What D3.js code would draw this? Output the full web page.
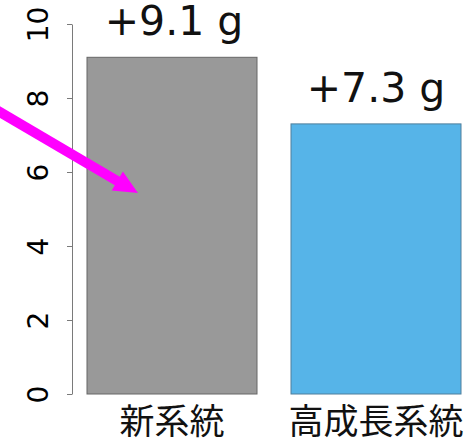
<!DOCTYPE html>
<html>
<head>
<meta charset="utf-8">
<script src="https://cdn.jsdelivr.net/npm/d3@7"></script>
<style>
  html, body { margin: 0; padding: 0; background: #fff; }
  svg { display: block; }
</style>
</head>
<body>
<script>
// Weight gain per line
const categories = ["新系統", "高成長系統"];
const values = [9.1, 7.3];
const valueLabels = ["+9.1 g", "+7.3 g"];
const barColors = ["#999999", "#56B4E8"];
const barStrokes = ["#666666", "#4f7f9c"];
const yTicks = [0, 2, 4, 6, 8, 10];

const W = 468, H = 438;
const svg = d3.select("body").append("svg")
  .attr("width", W).attr("height", H);

const y = d3.scaleLinear().domain([0, 10]).range([394, 24]);
const x = d3.scaleBand().domain(categories).range([87, 461])
  .paddingInner(1 / 6).paddingOuter(0);

// y axis with labels rotated along the axis
const axis = d3.axisLeft(y).tickValues(yTicks).tickSize(5).tickSizeOuter(0)
  .tickFormat(d3.format("d"));
const gAxis = svg.append("g").attr("transform", "translate(72,0)").call(axis);
gAxis.select(".domain").attr("stroke", "#7a7a7a");
gAxis.selectAll(".tick line").attr("stroke", "#7a7a7a");
gAxis.selectAll(".tick text")
  .attr("x", 0).attr("dy", 0)
  .attr("transform", "translate(-24,0) rotate(-90)")
  .attr("text-anchor", "middle")
  .attr("fill", "#000")
  .style("font-family", "'DejaVu Sans', sans-serif")
  .style("font-size", "28px");

// bars
svg.selectAll("rect.bar").data(categories).join("rect")
  .attr("class", "bar")
  .attr("x", d => x(d))
  .attr("width", x.bandwidth())
  .attr("y", (d, i) => y(values[i]))
  .attr("height", (d, i) => y(0) - y(values[i]))
  .attr("fill", (d, i) => barColors[i])
  .attr("stroke", (d, i) => barStrokes[i])
  .attr("stroke-width", 1);

// value labels above bars
svg.selectAll("text.val").data(categories).join("text")
  .attr("class", "val")
  .attr("x", (d, i) => x(d) + x.bandwidth() / 2 + (i === 0 ? 2 : 0))
  .attr("y", (d, i) => y(values[i]) - 22)
  .attr("text-anchor", "middle")
  .style("font-family", "'DejaVu Sans', sans-serif")
  .style("font-size", "41px")
  .attr("fill", "#111")
  .text((d, i) => valueLabels[i]);

// category labels
svg.selectAll("text.cat").data(categories).join("text")
  .attr("class", "cat")
  .attr("x", d => x(d) + x.bandwidth() / 2)
  .attr("y", 434)
  .attr("text-anchor", "middle")
  .style("font-family", "'Noto Sans CJK JP', sans-serif")
  .style("font-size", "35px")
  .attr("fill", "#111")
  .text(d => d);

// magenta pointer arrow into the first bar
const tipX = x(categories[0]) + x.bandwidth() * 0.3;
const tipY = y(5.43);
const ang = Math.atan2(81, 138);
const ux = Math.cos(ang), uy = Math.sin(ang);
const headLen = 24, headHalf = 11;
const startX = tipX - 170 * ux, startY = tipY - 170 * uy;
const baseX = tipX - headLen * ux, baseY = tipY - headLen * uy;
svg.append("line")
  .attr("x1", startX).attr("y1", startY)
  .attr("x2", baseX + 2 * ux).attr("y2", baseY + 2 * uy)
  .attr("stroke", "#ff00ff").attr("stroke-width", 10);
svg.append("path")
  .attr("d", d3.line()([
    [tipX, tipY],
    [baseX - headHalf * uy, baseY + headHalf * ux],
    [baseX + headHalf * uy, baseY - headHalf * ux]
  ]) + "Z")
  .attr("fill", "#ff00ff");
</script>
</body>
</html>
